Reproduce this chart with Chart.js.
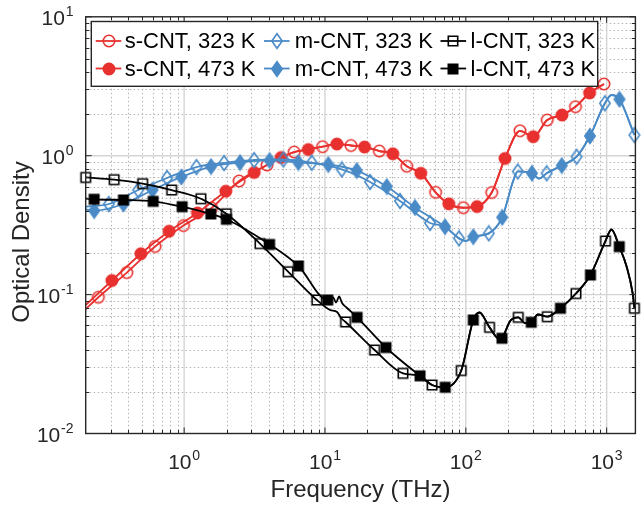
<!DOCTYPE html>
<html>
<head>
<meta charset="utf-8">
<script src="https://cdn.jsdelivr.net/npm/chart.js@4/dist/chart.umd.min.js"></script>
<style>
html,body{margin:0;padding:0;background:#fff;}
#wrap{width:643px;height:508px;position:relative;}
</style>
</head>
<body>
<div id="wrap"><canvas id="c" width="643" height="508"></canvas></div>
<script>
// ---------------- DATA ----------------
// axis ranges and tick decades
const xLimits = [0.2, 1600];
const yLimits = [0.01, 10];
const xDecades = [1, 10, 100, 1000];
const xDecadeExps = ['0', '1', '2', '3'];
const yDecades = [0.01, 0.1, 1, 10];
const yDecadeExps = ['-2', '-1', '0', '1'];
const axisTitleX = 'Frequency (THz)';
const axisTitleY = 'Optical Density';

const seriesNames = ['s-CNT, 323 K', 's-CNT, 473 K', 'm-CNT, 323 K', 'm-CNT, 473 K', 'l-CNT, 323 K', 'l-CNT, 473 K'];

// s-CNT (red) markers
const sFreq323 = [0.246, 0.392, 0.622, 0.989, 1.567, 2.456, 3.88, 6.04, 9.61, 15.3, 24.3, 38.1, 61.0, 96.0, 152.7, 242.5, 378.6, 600.8, 957];
const sOD323   = [0.0957, 0.144, 0.222, 0.314, 0.420, 0.657, 0.857, 1.063, 1.161, 1.184, 1.081, 0.839, 0.545, 0.422, 0.543, 1.511, 1.807, 2.253, 3.28];
const sFreq473 = [0.307, 0.493, 0.782, 1.243, 1.977, 3.14, 4.88, 7.62, 12.15, 19.1, 30.3, 47.9, 75.7, 120.1, 189.7, 301, 482, 757];
const sOD473   = [0.1263, 0.197, 0.286, 0.387, 0.555, 0.757, 0.970, 1.108, 1.214, 1.155, 1.032, 0.747, 0.450, 0.430, 0.955, 1.370, 1.963, 2.828];
// line-only points of the s-CNT curves
const sLineFreq323 = [0.2];  const sLineOD323 = [0.0787];
const sLineFreq473 = [0.2];  const sLineOD473 = [0.0842];
const sSharedFreq = [];      const sSharedOD = [];
const sMergeFreq = 3.5;      // above this the two curves coincide

// m-CNT (blue) markers
const mFreq323 = [0.292, 0.472, 0.757, 1.223, 1.922, 3.14, 5.07, 8.06, 13.16, 20.9, 34.1, 55.7, 89.5, 145.6, 233.9, 375, 612, 972, 1574];
const mOD323   = [0.449, 0.566, 0.691, 0.829, 0.886, 0.931, 0.939, 0.890, 0.796, 0.647, 0.472, 0.328, 0.254, 0.276, 0.770, 0.747, 0.983, 2.384, 1.409];
const mFreq473 = [0.230, 0.371, 0.596, 0.955, 1.554, 2.497, 4.045, 6.475, 10.57, 16.82, 27.46, 43.6, 71.2, 113.0, 181.3, 295, 480, 761, 1233];
const mOD473   = [0.402, 0.449, 0.566, 0.703, 0.836, 0.893, 0.924, 0.893, 0.864, 0.782, 0.600, 0.424, 0.308, 0.261, 0.360, 0.747, 0.850, 1.386, 2.547];
const mLineFreq323 = [0.2];  const mLineOD323 = [0.43];
const mLineFreq473 = [0.2];  const mLineOD473 = [0.41];
const mSharedFreq = [100.3, 218, 330.8, 1082];
const mSharedOD   = [0.243, 0.668, 0.685, 2.735];
const mMergeFreq = 70;

// l-CNT (black) markers
const lFreq323 = [0.2, 0.3185, 0.5075, 0.815, 1.316, 1.993, 3.451, 5.47, 8.746, 14.0, 22.5, 35.8, 57.6, 92.8, 147.3, 235.9, 378.8, 605.5, 980.6, 1575];
const lOD323   = [0.697, 0.672, 0.629, 0.566, 0.490, 0.382, 0.233, 0.1462, 0.0914, 0.0635, 0.0399, 0.0271, 0.02234, 0.0284, 0.0581, 0.0686, 0.0693, 0.1018, 0.2431, 0.0797];
const lFreq473 = [0.2297, 0.371, 0.6026, 0.968, 1.547, 1.996, 4.045, 6.475, 10.47, 16.9, 27.1, 47.3, 71.4, 113.0, 180.6, 291.6, 469.9, 767.4, 1229];
const lOD473   = [0.4854, 0.4799, 0.4694, 0.4294, 0.3805, 0.3484, 0.2295, 0.1607, 0.0914, 0.0686, 0.0416, 0.0260, 0.02151, 0.0657, 0.0485, 0.0632, 0.0797, 0.1384, 0.2213];
const lLineFreq323 = [10.87, 12.19, 13.01];
const lLineOD323   = [0.0775, 0.0749, 0.0678];
const lLineFreq473 = [0.2, 11.42, 11.99, 12.59, 13.22, 14.35];
const lLineOD473   = [0.492, 0.0953, 0.0877, 0.0969, 0.0870, 0.0801];
const lSharedFreq = [125.1, 174.8, 209.4, 263.2, 325.4, 1082, 1387, 1530];
const lSharedOD   = [0.0743, 0.0475, 0.0657, 0.0624, 0.0719, 0.2942, 0.1588, 0.1022];
const lMergeFreq = 43;

// ---------------- STYLE ----------------
const RED = '#E8312F', BLUE = '#4A8BC7', BLACK = '#000000', AXIS = '#262626';
const FONT_FAMILY = '"Liberation Sans", Arial, Helvetica, sans-serif';

function pts(f, y) { return f.map((v, i) => ({x: v, y: y[i]})); }
function curve(ownF, ownY, otherF, otherY, lineF, lineY, sharedF, sharedY, split) {
  const out = [];
  ownF.forEach((v, i) => { if (v < split) out.push({x: v, y: ownY[i]}); });
  lineF.forEach((v, i) => out.push({x: v, y: lineY[i]}));
  [[ownF, ownY], [otherF, otherY], [sharedF, sharedY]].forEach(([f, y]) =>
    f.forEach((v, i) => { if (v >= split) out.push({x: v, y: y[i]}); }));
  out.sort((a, b) => a.x - b.x);
  return out;
}

function makeMarker(shape, color, filled) {
  const c = document.createElement('canvas');
  let w = 16, h = 16;
  if (shape === 'diamond') { w = 14; h = 18; }
  c.width = w; c.height = h;
  const g = c.getContext('2d');
  g.lineWidth = 1.6; g.strokeStyle = color; g.fillStyle = color;
  const cx = w / 2, cy = h / 2;
  g.beginPath();
  if (shape === 'circle') g.arc(cx, cy, 5.7, 0, Math.PI * 2);
  else if (shape === 'diamond') { g.moveTo(cx, cy - 7.3); g.lineTo(cx + 5.2, cy); g.lineTo(cx, cy + 7.3); g.lineTo(cx - 5.2, cy); g.closePath(); }
  else g.rect(cx - 4.7, cy - 4.7, 9.4, 9.4);
  if (filled) g.fill();
  g.stroke();
  return c;
}

const markers = [
  makeMarker('circle', RED, false), makeMarker('circle', RED, true),
  makeMarker('diamond', BLUE, false), makeMarker('diamond', BLUE, true),
  makeMarker('square', BLACK, false), makeMarker('square', BLACK, true)
];
const colors = [RED, RED, BLUE, BLUE, BLACK, BLACK];

const lines = [
  curve(sFreq323, sOD323, sFreq473, sOD473, sLineFreq323, sLineOD323, sSharedFreq, sSharedOD, sMergeFreq),
  curve(sFreq473, sOD473, sFreq323, sOD323, sLineFreq473, sLineOD473, sSharedFreq, sSharedOD, sMergeFreq),
  curve(mFreq323, mOD323, mFreq473, mOD473, mLineFreq323, mLineOD323, mSharedFreq, mSharedOD, mMergeFreq),
  curve(mFreq473, mOD473, mFreq323, mOD323, mLineFreq473, mLineOD473, mSharedFreq, mSharedOD, mMergeFreq),
  curve(lFreq323, lOD323, lFreq473, lOD473, lLineFreq323, lLineOD323, lSharedFreq, lSharedOD, lMergeFreq),
  curve(lFreq473, lOD473, lFreq323, lOD323, lLineFreq473, lLineOD473, lSharedFreq, lSharedOD, lMergeFreq)
];
const markerPts = [
  pts(sFreq323, sOD323), pts(sFreq473, sOD473),
  pts(mFreq323, mOD323), pts(mFreq473, mOD473),
  pts(lFreq323, lOD323), pts(lFreq473, lOD473)
];

const datasets = [];
for (let i = 5; i >= 0; i--) {
  datasets.push({
    label: seriesNames[i] + ' markers', data: markerPts[i], showLine: false,
    pointStyle: markers[i], pointRadius: 6, pointHoverRadius: 6, clip: false,
    borderColor: colors[i], backgroundColor: colors[i]
  });
  datasets.push({
    label: seriesNames[i], data: lines[i], showLine: true, pointRadius: 0, pointHoverRadius: 0,
    borderColor: colors[i], borderWidth: 1.8, cubicInterpolationMode: 'monotone', fill: false
  });
}

// ---------------- DECORATION PLUGIN ----------------
function minorValues(lo, hi) {
  const out = [];
  for (let d = 0.001; d <= 10000; d *= 10) {
    for (let m = 2; m <= 9; m++) { const v = m * d; if (v > lo * 1.0001 && v < hi * 0.9999) out.push(v); }
  }
  return out;
}
function drawPow(ctx, exp, x, baseY, align) {
  const base = '21px ' + FONT_FAMILY, sup = '14px ' + FONT_FAMILY;
  ctx.font = base; const w1 = ctx.measureText('10').width;
  ctx.font = sup; const w2 = ctx.measureText(exp).width;
  const gap = 0.8, total = w1 + gap + w2;
  const x0 = align === 'center' ? x - total / 2 : x - total;
  ctx.textAlign = 'left'; ctx.textBaseline = 'alphabetic';
  ctx.font = base; ctx.fillText('10', x0, baseY);
  ctx.font = sup; ctx.fillText(exp, x0 + w1 + gap, baseY - 9.5);
}

const decor = {
  id: 'decor',
  beforeDatasetsDraw(chart) {
    const {ctx, chartArea: a, scales: {x, y}} = chart;
    ctx.save();
    ctx.lineWidth = 1;
    ctx.strokeStyle = '#b4b4b4'; ctx.setLineDash([1.5, 2.5]);
    minorValues(xLimits[0], xLimits[1]).forEach(v => {
      const p = Math.round(x.getPixelForValue(v)) + 0.5;
      ctx.beginPath(); ctx.moveTo(p, a.top); ctx.lineTo(p, a.bottom); ctx.stroke();
    });
    minorValues(yLimits[0], yLimits[1]).forEach(v => {
      const p = Math.round(y.getPixelForValue(v)) + 0.5;
      ctx.beginPath(); ctx.moveTo(a.left, p); ctx.lineTo(a.right, p); ctx.stroke();
    });
    ctx.setLineDash([]); ctx.strokeStyle = '#d4d4d4'; ctx.lineWidth = 1.4;
    xDecades.forEach(v => {
      if (v <= xLimits[0] || v >= xLimits[1]) return;
      const p = x.getPixelForValue(v);
      ctx.beginPath(); ctx.moveTo(p, a.top); ctx.lineTo(p, a.bottom); ctx.stroke();
    });
    yDecades.forEach(v => {
      if (v <= yLimits[0] || v >= yLimits[1]) return;
      const p = y.getPixelForValue(v);
      ctx.beginPath(); ctx.moveTo(a.left, p); ctx.lineTo(a.right, p); ctx.stroke();
    });
    ctx.restore();
  },
  afterDatasetsDraw(chart) {
    const {ctx, chartArea: a, scales: {x, y}} = chart;
    ctx.save();
    ctx.strokeStyle = AXIS; ctx.lineWidth = 1;
    const tick = (x1, y1, x2, y2) => { ctx.beginPath(); ctx.moveTo(x1, y1); ctx.lineTo(x2, y2); ctx.stroke(); };
    minorValues(xLimits[0], xLimits[1]).forEach(v => {
      const p = Math.round(x.getPixelForValue(v)) + 0.5;
      tick(p, a.bottom, p, a.bottom - 3.5); tick(p, a.top, p, a.top + 3.5);
    });
    xDecades.forEach(v => {
      const p = x.getPixelForValue(v);
      tick(p, a.bottom, p, a.bottom - 6); tick(p, a.top, p, a.top + 6);
    });
    minorValues(yLimits[0], yLimits[1]).forEach(v => {
      const p = Math.round(y.getPixelForValue(v)) + 0.5;
      tick(a.left, p, a.left + 3.5, p); tick(a.right, p, a.right - 3.5, p);
    });
    yDecades.forEach(v => {
      const p = y.getPixelForValue(v);
      tick(a.left, p, a.left + 6, p); tick(a.right, p, a.right - 6, p);
    });
    // frame
    ctx.lineWidth = 1.4;
    ctx.strokeRect(a.left, a.top, a.right - a.left, a.bottom - a.top);
    // tick labels
    ctx.fillStyle = AXIS;
    xDecades.forEach((v, i) => drawPow(ctx, xDecadeExps[i], x.getPixelForValue(v), 469, 'center'));
    yDecades.forEach((v, i) => { const p = y.getPixelForValue(v); drawPow(ctx, yDecadeExps[i], 73.5, p + 8.5, 'right'); });
    // axis titles
    ctx.font = '24px ' + FONT_FAMILY;
    ctx.textAlign = 'center'; ctx.textBaseline = 'alphabetic';
    ctx.fillText(axisTitleX, (a.left + a.right) / 2, 497);
    ctx.translate(29, 242); ctx.rotate(-Math.PI / 2);
    ctx.fillText(axisTitleY, 0, 0);
    ctx.restore();
  },
  afterDraw(chart) {
    const ctx = chart.ctx;
    ctx.save();
    // legend box
    const bx = 91.3, by = 21.5, bw = 506.4, bh = 64.8;
    ctx.fillStyle = '#ffffff'; ctx.fillRect(bx, by, bw, bh);
    ctx.strokeStyle = AXIS; ctx.lineWidth = 1.4; ctx.strokeRect(bx, by, bw, bh);
    const colLine = [95.7, 264, 440.5], colText = [124.7, 294.7, 470.5], rowY = [41, 68.5];
    ctx.font = '22px ' + FONT_FAMILY; ctx.textAlign = 'left'; ctx.textBaseline = 'middle';
    for (let i = 0; i < 6; i++) {
      const col = Math.floor(i / 2), row = i % 2, yy = rowY[row], x0 = colLine[col];
      ctx.strokeStyle = colors[i]; ctx.lineWidth = 1.8;
      ctx.beginPath(); ctx.moveTo(x0, yy); ctx.lineTo(x0 + 25.6, yy); ctx.stroke();
      const m = markers[i];
      ctx.drawImage(m, Math.round(x0 + 12.8 - m.width / 2), Math.round(yy - m.height / 2));
      ctx.fillStyle = '#000'; ctx.fillText(seriesNames[i], colText[col], yy + 1);
    }
    ctx.restore();
  }
};

new Chart(document.getElementById('c'), {
  type: 'scatter',
  data: {datasets},
  options: {
    responsive: false, animation: false, devicePixelRatio: 1, events: [],
    layout: {padding: {left: 85.7, right: 7.6, top: 16.8, bottom: 74.5}},
    plugins: {legend: {display: false}, tooltip: {enabled: false}},
    scales: {
      x: {type: 'logarithmic', min: xLimits[0], max: xLimits[1], display: false},
      y: {type: 'logarithmic', min: yLimits[0], max: yLimits[1], display: false}
    }
  },
  plugins: [decor]
});
</script>
</body>
</html>
